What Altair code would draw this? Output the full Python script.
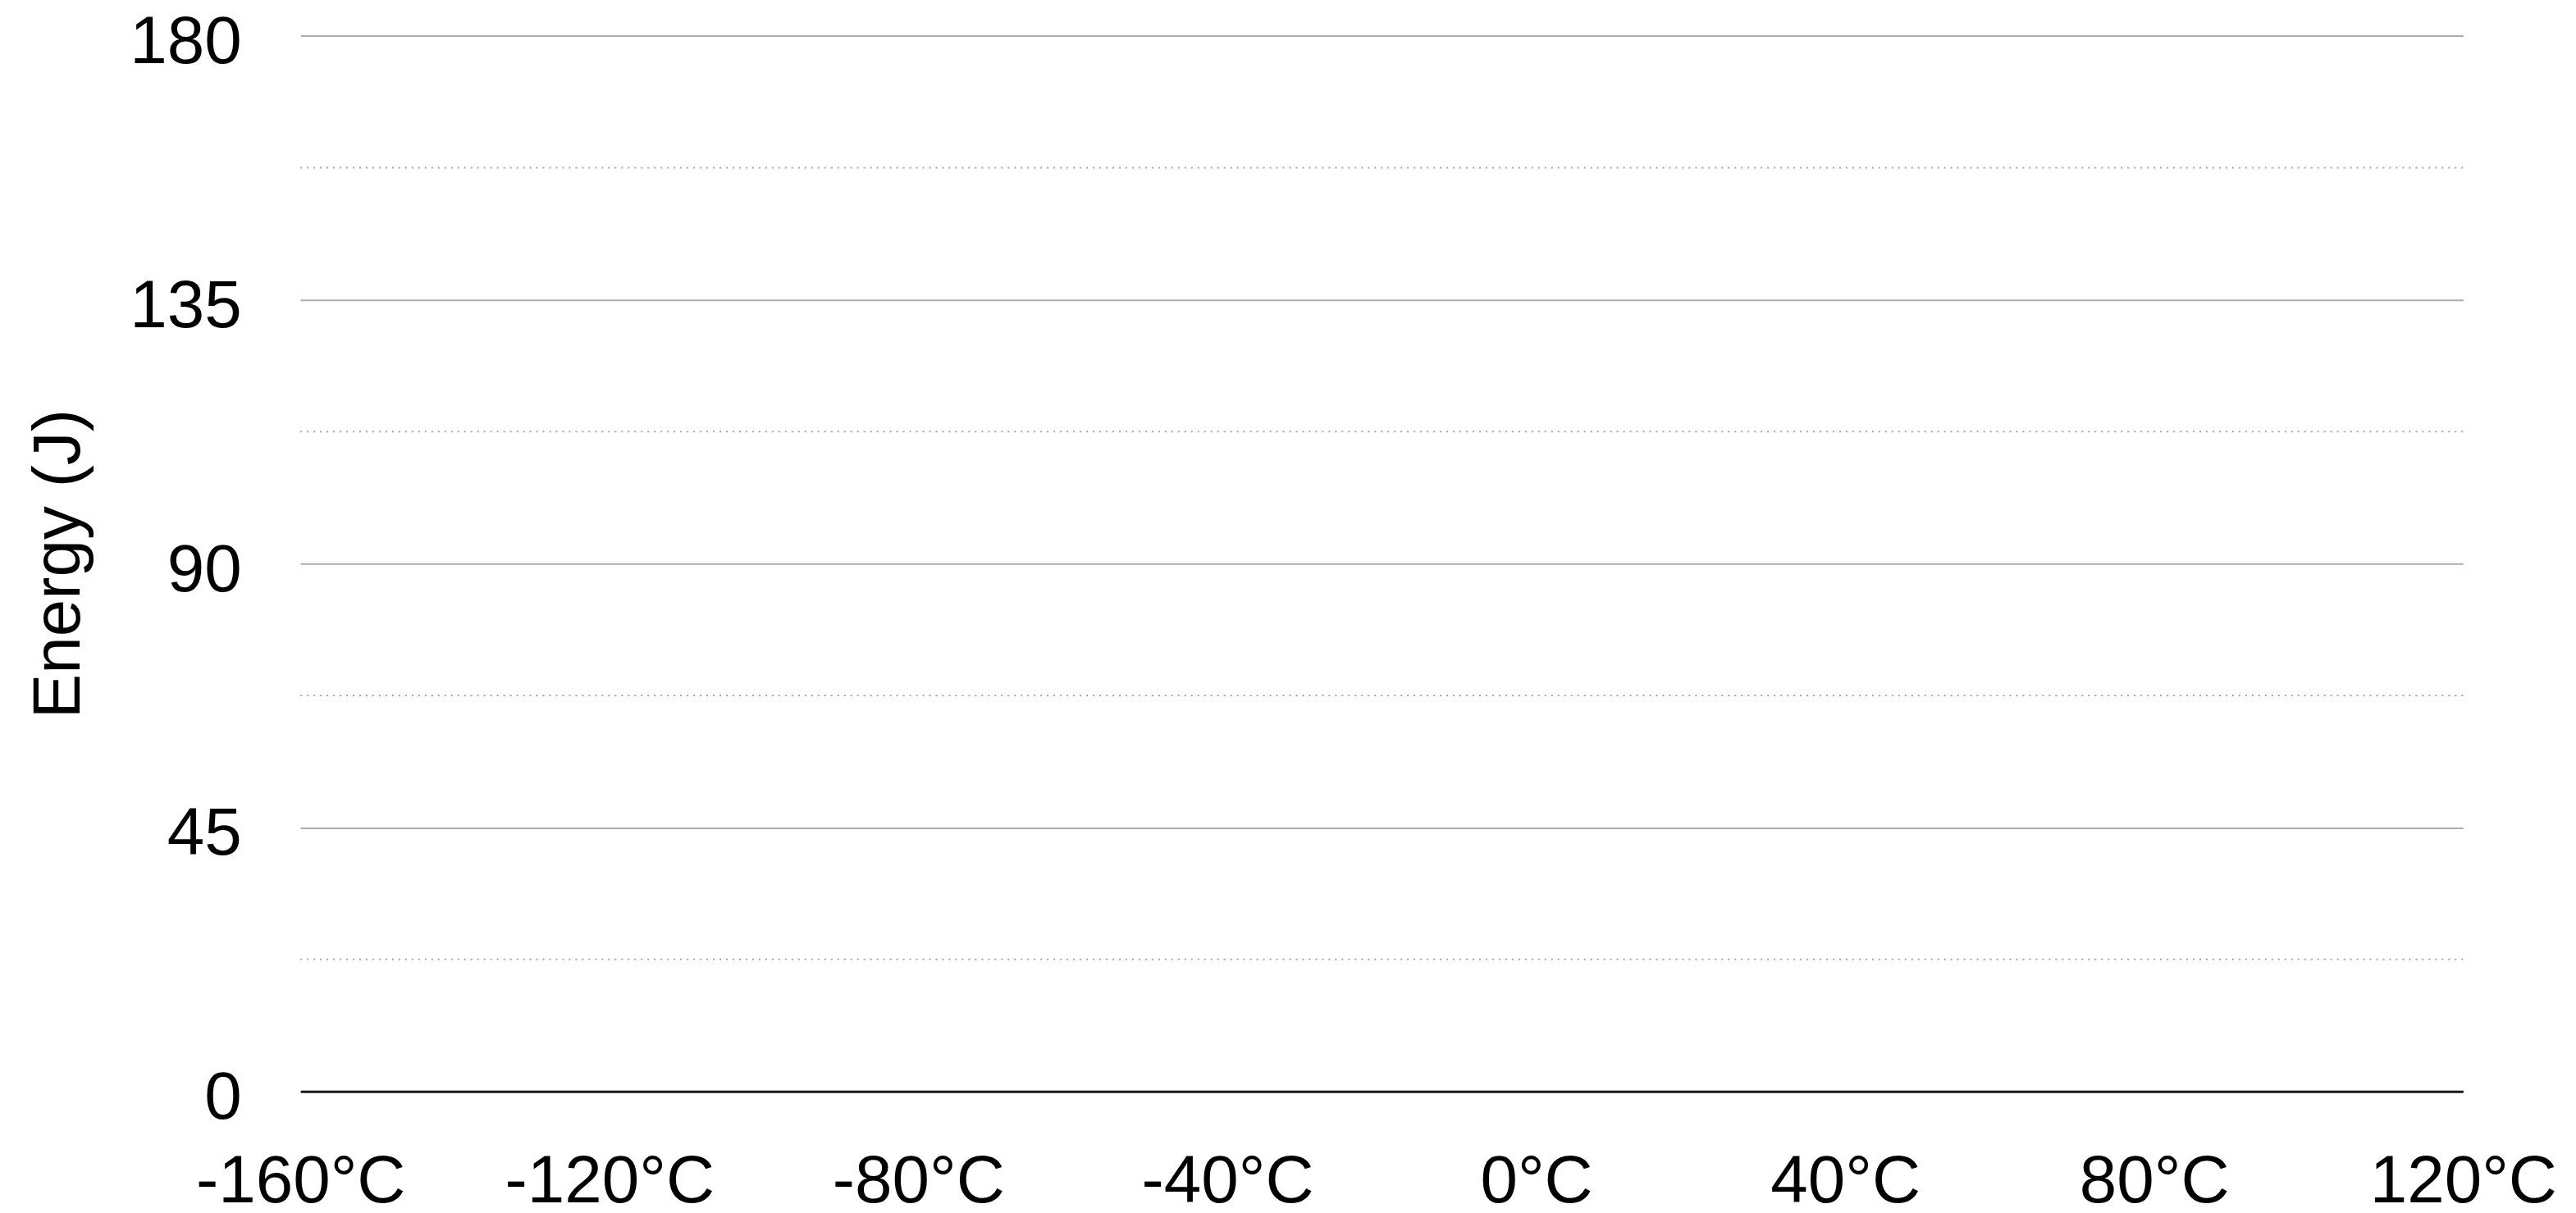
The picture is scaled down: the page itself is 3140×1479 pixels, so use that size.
import altair as alt
import pandas as pd

# Axis values (the chart holds no data marks)
x_ticks = [-160, -120, -80, -40, 0, 40, 80, 120]
y_ticks = [0, 45, 90, 135, 180]
y_minor = [22.5, 67.5, 112.5, 157.5]
y_title = "Energy (J)"

FONT = "Liberation Sans"
FS = 82

minor_df = pd.DataFrame({"y": y_minor})
base_df = pd.DataFrame({"x": x_ticks, "y": [0] * len(x_ticks)})

xscale = alt.Scale(domain=[-160, 120], nice=False, zero=False)
yscale = alt.Scale(domain=[0, 180], nice=False, zero=True)

axes_layer = alt.Chart(base_df).mark_point(opacity=0).encode(
    x=alt.X(
        "x:Q",
        scale=xscale,
        axis=alt.Axis(
            values=x_ticks,
            labelExpr="datum.value + '°C'",
            grid=False,
            ticks=False,
            tickSize=0,
            domain=True,
            domainColor="#1a1a1a",
            domainWidth=3,
            labelPadding=70,
            labelFontSize=FS,
            labelFont=FONT,
            labelColor="#000000",
            labelFlush=False,
            labelOverlap=False,
            labelLimit=0,
            title=None,
            zindex=1,
        ),
    ),
    y=alt.Y(
        "y:Q",
        scale=yscale,
        axis=alt.Axis(
            values=y_ticks,
            grid=True,
            gridColor="#ababab",
            gridWidth=2,
            ticks=False,
            tickSize=0,
            domain=False,
            labelPadding=72,
            labelFontSize=FS,
            labelFont=FONT,
            labelColor="#000000",
            labelBaseline="middle",
            labelOffset=8,
            labelFlush=False,
            labelOverlap=False,
            labelLimit=0,
            title=y_title,
            titleFont=FONT,
            titleFontSize=FS,
            titleFontWeight="normal",
            titleColor="#000000",
            titleAngle=-90,
            titleAlign="center",
            titleBaseline="alphabetic",
            titleX=-270,
            titleY=645,
            titleLimit=0,
        ),
    ),
)

minor_layer = alt.Chart(minor_df).mark_rule(
    color="#a6a6a6", strokeWidth=2, strokeDash=[2, 6]
).encode(y=alt.Y("y:Q", scale=yscale))

chart = (
    alt.layer(minor_layer, axes_layer)
    .properties(
        width=2642,
        height=1290,
        padding={"left": 359, "top": 34, "right": 130, "bottom": 150},
        autosize=alt.AutoSizeParams(type="none"),
        background="#ffffff",
    )
    .configure_view(stroke=None)
)

chart.save("out.html", embed_options={"renderer": "svg", "actions": False})
